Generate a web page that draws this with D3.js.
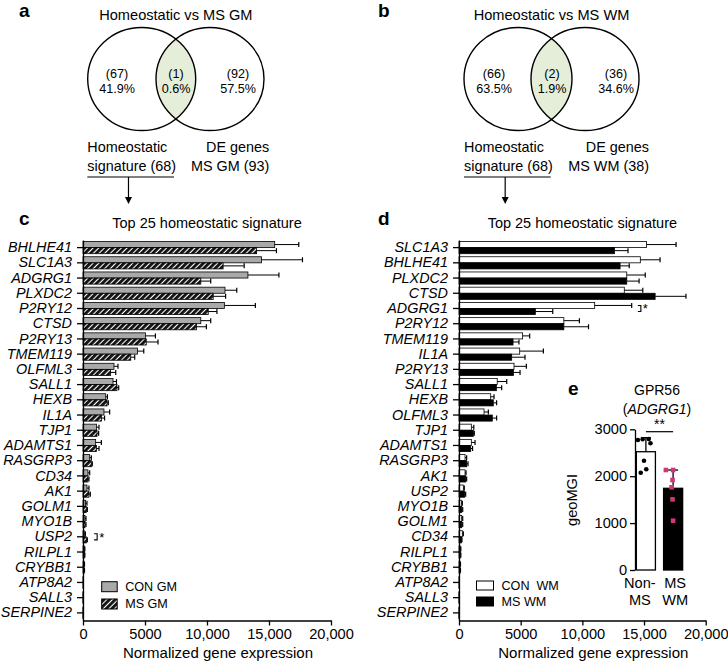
<!DOCTYPE html>
<html>
<head>
<meta charset="utf-8">
<script src="https://cdn.jsdelivr.net/npm/d3@7"></script>
<style>
body { margin: 0; background: #fff; }
text { font-family: "Liberation Sans", Arial, sans-serif; fill: #000; }
</style>
</head>
<body>
<div id="fig"></div>
<script>
// ---- data ----
var vennGMCounts = ["(67)", "(1)", "(92)"];
var vennGMPct = ["41.9%", "0.6%", "57.5%"];
var vennWMCounts = ["(66)", "(2)", "(36)"];
var vennWMPct = ["63.5%", "1.9%", "34.6%"];

var genesGM = ["BHLHE41", "SLC1A3", "ADGRG1", "PLXDC2", "P2RY12", "CTSD", "P2RY13", "TMEM119",
  "OLFML3", "SALL1", "HEXB", "IL1A", "TJP1", "ADAMTS1", "RASGRP3", "CD34", "AK1", "GOLM1",
  "MYO1B", "USP2", "RILPL1", "CRYBB1", "ATP8A2", "SALL3", "SERPINE2"];
var conGM = [15460, 14400, 13300, 11450, 11400, 9500, 5030, 4390, 2500, 2420, 1830, 1690, 1080,
  1020, 540, 400, 320, 210, 160, 100, 100, 80, 20, 10, 10];
var conGMsd = [1940, 3300, 2500, 950, 2500, 800, 810, 510, 320, 280, 140, 460, 210, 460, 130,
  140, 160, 110, 80, 90, 50, 40, 10, 5, 5];
var msGM = [14000, 11300, 9500, 10500, 10100, 9150, 5100, 3850, 2230, 2740, 1940, 1480, 1130,
  1080, 670, 400, 480, 270, 160, 270, 100, 80, 20, 10, 10];
var msGMsd = [1600, 1700, 800, 1000, 700, 800, 950, 320, 410, 140, 100, 260, 130, 210, 80, 80,
  110, 80, 80, 80, 50, 40, 10, 5, 5];

var genesWM = ["SLC1A3", "BHLHE41", "PLXDC2", "CTSD", "ADGRG1", "P2RY12", "TMEM119", "IL1A",
  "P2RY13", "SALL1", "HEXB", "OLFML3", "TJP1", "ADAMTS1", "RASGRP3", "AK1", "USP2", "MYO1B",
  "GOLM1", "CD34", "RILPL1", "CRYBB1", "ATP8A2", "SALL3", "SERPINE2"];
var conWM = [15200, 14700, 13600, 13400, 11000, 8500, 5160, 4920, 4460, 3100, 2570, 2030, 1000,
  1000, 490, 490, 350, 190, 220, 270, 100, 80, 20, 10, 10];
var conWMsd = [2400, 1600, 1500, 1500, 3000, 1260, 570, 1920, 1000, 770, 270, 350, 200, 300,
  130, 80, 80, 80, 80, 80, 50, 40, 10, 5, 5];
var msWM = [12600, 13060, 13600, 15900, 6190, 8500, 4380, 4270, 4410, 3030, 2780, 2700, 1160,
  950, 620, 540, 460, 220, 220, 190, 100, 80, 20, 10, 10];
var msWMsd = [1100, 740, 1000, 2500, 1410, 2000, 480, 1080, 540, 430, 270, 350, 80, 150, 110,
  80, 80, 80, 80, 50, 50, 40, 10, 5, 5];

var xTicks = [0, 5000, 10000, 15000, 20000];

var gprGroups = ["Non-MS", "MS WM"];
var gprMeans = [2522, 1742];
var gprSD = [300, 390];
var nonMSPoints = [2772, 2787, 2793, 2701, 2331, 2147, 2075];
var msWMPoints = [2132, 2132, 1919, 1763, 1507, 1051];
var nonMSJitter = [-0.42, -0.17, 0.15, 0.24, -0.1, 0.02, -0.27];
var msWMJitter = [-0.38, 0, -0.03, -0.08, -0.03, 0];
var gprTicks = [0, 1000, 2000, 3000];

// ---- drawing ----
var W = 728, H = 666;
var svg = d3.select("#fig").append("svg").attr("width", W).attr("height", H);
var defs = svg.append("defs");

// diagonal hatch for MS GM bars
var hatch = defs.append("pattern")
  .attr("id", "hatch")
  .attr("patternUnits", "userSpaceOnUse")
  .attr("width", 4).attr("height", 4)
  .attr("patternTransform", "rotate(45)");
hatch.append("rect").attr("width", 4).attr("height", 4).attr("fill", "#fff");
hatch.append("rect").attr("width", 2.9).attr("height", 4).attr("fill", "#111");

function panelLetter(x, y, t) {
  svg.append("text").attr("x", x).attr("y", y).attr("dy", "0.35em")
    .style("font-size", "19px").style("font-weight", "bold").text(t);
}

// Venn diagram
function venn(id, title, cxL, cxR, counts, pcts, textX, leftLab, rightLab, lineX0, lineX1, rightEnd) {
  var cy = 79, rx = 54, ry = 51.5;
  svg.append("text").attr("x", (cxL + cxR) / 2).attr("y", 15).attr("dy", "0.35em")
    .attr("text-anchor", "middle").style("font-size", "14.6px").text(title);

  defs.append("clipPath").attr("id", id)
    .append("ellipse").attr("cx", cxL).attr("cy", cy).attr("rx", rx).attr("ry", ry);
  svg.append("ellipse").attr("cx", cxR).attr("cy", cy).attr("rx", rx).attr("ry", ry)
    .attr("clip-path", "url(#" + id + ")").attr("fill", "#e4eed9");
  [cxL, cxR].forEach(function (cx) {
    svg.append("ellipse").attr("cx", cx).attr("cy", cy).attr("rx", rx).attr("ry", ry)
      .attr("fill", "none").attr("stroke", "#000").attr("stroke-width", 1.4);
  });

  counts.forEach(function (c, i) {
    svg.append("text").attr("x", textX[i]).attr("y", 74).attr("dy", "0.35em")
      .attr("text-anchor", "middle").style("font-size", "12.6px").text(c);
    svg.append("text").attr("x", textX[i]).attr("y", 89).attr("dy", "0.35em")
      .attr("text-anchor", "middle").style("font-size", "12.6px").text(pcts[i]);
  });

  leftLab.forEach(function (t, i) {
    svg.append("text").attr("x", lineX0).attr("y", 147 + i * 18.5).attr("dy", "0.35em")
      .style("font-size", "14.4px").text(t);
  });
  rightLab.forEach(function (t, i) {
    svg.append("text").attr("x", rightEnd).attr("y", 147 + i * 18.5).attr("dy", "0.35em")
      .attr("text-anchor", "end").style("font-size", "14.4px").text(t);
  });

  svg.append("line").attr("x1", lineX0).attr("x2", lineX1).attr("y1", 177).attr("y2", 177)
    .attr("stroke", "#000").attr("stroke-width", 1.2);
  var ax = lineX0 + (lineX1 - lineX0) * 0.475;
  svg.append("line").attr("x1", ax).attr("x2", ax).attr("y1", 177).attr("y2", 198)
    .attr("stroke", "#000").attr("stroke-width", 1.2);
  svg.append("path").attr("d", "M" + (ax - 3.5) + ",197 L" + (ax + 3.5) + ",197 L" + ax + ",204 Z")
    .attr("fill", "#000");
}

panelLetter(19, 10, "a");
venn("clipGM", "Homeostatic vs MS GM", 141.7, 210, vennGMCounts, vennGMPct, [117, 176, 238],
  ["Homeostatic", "signature (68)"], ["DE genes", "MS GM (93)"], 87.3, 174, 269.3);
panelLetter(378, 10, "b");
venn("clipWM", "Homeostatic vs MS WM", 518, 585, vennWMCounts, vennWMPct, [494, 552, 616],
  ["Homeostatic", "signature (68)"], ["DE genes", "MS WM (38)"], 464, 550.7, 649);

// Horizontal grouped bar chart
function barPanel(genes, con, conSd, ms, msSd, x0, x1, fills, legendNames, legendBox, sig) {
  var x = d3.scaleLinear().domain([0, 20000]).range([x0, x1]);
  var y = d3.scaleBand().domain(genes).range([240, 620.5]);
  var sub = d3.scaleBand().domain([0, 1]).range([0, y.bandwidth()]).paddingOuter(0.25);

  svg.append("text").attr("x", (x0 + x1) / 2).attr("y", 223).attr("dy", "0.35em")
    .attr("text-anchor", "middle").style("font-size", "14.5px").text("Top 25 homeostatic signature");

  var rows = genes.map(function (g, i) {
    return { gene: g, vals: [{ k: 0, m: con[i], sd: conSd[i] }, { k: 1, m: ms[i], sd: msSd[i] }] };
  });

  var rowG = svg.append("g").selectAll("g").data(rows).enter().append("g")
    .attr("transform", function (d) { return "translate(0," + y(d.gene) + ")"; });

  var bar = rowG.selectAll("g").data(function (d) { return d.vals; }).enter().append("g");
  bar.append("rect")
    .attr("x", x(0))
    .attr("y", function (d) { return sub(d.k); })
    .attr("width", function (d) { return x(d.m) - x(0); })
    .attr("height", sub.bandwidth())
    .attr("fill", function (d) { return fills[d.k]; })
    .attr("stroke", "#000").attr("stroke-width", 0.8);
  bar.append("line")
    .attr("x1", function (d) { return x(d.m); })
    .attr("x2", function (d) { return x(d.m + d.sd); })
    .attr("y1", function (d) { return sub(d.k) + sub.bandwidth() / 2; })
    .attr("y2", function (d) { return sub(d.k) + sub.bandwidth() / 2; })
    .attr("stroke", "#000").attr("stroke-width", 1);
  bar.append("line")
    .attr("x1", function (d) { return x(d.m + d.sd); })
    .attr("x2", function (d) { return x(d.m + d.sd); })
    .attr("y1", function (d) { return sub(d.k) + sub.bandwidth() / 2 - 2.5; })
    .attr("y2", function (d) { return sub(d.k) + sub.bandwidth() / 2 + 2.5; })
    .attr("stroke", "#000").attr("stroke-width", 1.2);

  // significance bracket
  var by0 = y(sig.gene) + sub(0) + sub.bandwidth() / 2;
  var by1 = y(sig.gene) + sub(1) + sub.bandwidth() / 2;
  var bx = x(sig.at);
  svg.append("path")
    .attr("d", "M" + bx + "," + by0 + " H" + (bx + 3) + " V" + by1 + " H" + bx)
    .attr("fill", "none").attr("stroke", "#000").attr("stroke-width", 1.1);
  svg.append("text").attr("x", bx + 5).attr("y", (by0 + by1) / 2 + 5)
    .style("font-size", "13px").text("*");

  var yAxis = svg.append("g").attr("transform", "translate(" + x0 + ",0)")
    .call(d3.axisLeft(y).tickSize(6).tickSizeOuter(0).tickPadding(5));
  yAxis.attr("font-family", null).attr("font-size", null);
  yAxis.selectAll("text").style("font-size", "14.4px").style("font-style", "italic");
  yAxis.selectAll("line, path").attr("stroke-width", 1.3);

  var xAxis = svg.append("g").attr("transform", "translate(0,620.5)")
    .call(d3.axisBottom(x).tickValues(xTicks).tickSize(5).tickSizeOuter(0).tickPadding(3)
      .tickFormat(function (d) { return d >= 10000 ? d3.format(",")(d) : d; }));
  xAxis.attr("font-family", null).attr("font-size", null);
  xAxis.selectAll("text").style("font-size", "14.6px");
  xAxis.selectAll("line, path").attr("stroke-width", 1.3);

  svg.append("text").attr("x", (x0 + x1) / 2 + 11).attr("y", 653).attr("dy", "0.35em")
    .attr("text-anchor", "middle").style("font-size", "15px").text("Normalized gene expression");

  // legend
  legendNames.forEach(function (n, i) {
    var ly = legendBox.y + i * legendBox.step;
    svg.append("rect").attr("x", legendBox.x).attr("y", ly)
      .attr("width", legendBox.w).attr("height", legendBox.h)
      .attr("fill", fills[i]).attr("stroke", "#000").attr("stroke-width", 1);
    svg.append("text").attr("x", legendBox.x + legendBox.w + 8).attr("y", ly + legendBox.h / 2)
      .attr("dy", "0.35em").style("font-size", "12.6px").style("white-space", "pre").text(n);
  });
}

panelLetter(19, 218, "c");
barPanel(genesGM, conGM, conGMsd, msGM, msGMsd, 83, 331, ["#a9a9a9", "url(#hatch)"],
  ["CON GM", "MS GM"], { x: 101.7, y: 581.7, w: 15.5, h: 10, step: 17.3 },
  { gene: "USP2", at: 900 });
panelLetter(378, 218, "d");
barPanel(genesWM, conWM, conWMsd, msWM, msWMsd, 459, 705.7, ["#fff", "#000"],
  ["CON  WM", "MS WM"], { x: 476.5, y: 581, w: 17, h: 9, step: 16 },
  { gene: "ADGRG1", at: 14500 });

// Panel e: GPR56 bar plot
panelLetter(568, 388, "e");
svg.append("text").attr("x", 657).attr("y", 390).attr("dy", "0.35em")
  .attr("text-anchor", "middle").style("font-size", "14px").text("GPR56");
var sub2 = svg.append("text").attr("x", 657).attr("y", 409).attr("dy", "0.35em")
  .attr("text-anchor", "middle").style("font-size", "14px");
sub2.append("tspan").text("(");
sub2.append("tspan").style("font-style", "italic").text("ADGRG1");
sub2.append("tspan").text(")");

var ex = d3.scaleBand().domain(gprGroups).range([635, 684]).paddingInner(0.3).paddingOuter(0.05);
var ey = d3.scaleLinear().domain([0, 3000]).range([570, 429.3]);

svg.append("g").selectAll("rect").data(gprGroups).enter().append("rect")
  .attr("x", function (d) { return ex(d); })
  .attr("y", function (d, i) { return ey(gprMeans[i]); })
  .attr("width", ex.bandwidth())
  .attr("height", function (d, i) { return ey(0) - ey(gprMeans[i]); })
  .attr("fill", function (d, i) { return i === 0 ? "#fff" : "#000"; })
  .attr("stroke", "#000").attr("stroke-width", 1.3);

gprGroups.forEach(function (g, i) {
  var cx = ex(g) + ex.bandwidth() / 2;
  svg.append("line").attr("x1", cx).attr("x2", cx)
    .attr("y1", ey(gprMeans[i])).attr("y2", ey(gprMeans[i] + gprSD[i]))
    .attr("stroke", "#000").attr("stroke-width", 1.3);
  svg.append("line").attr("x1", cx - 5).attr("x2", cx + 5)
    .attr("y1", ey(gprMeans[i] + gprSD[i])).attr("y2", ey(gprMeans[i] + gprSD[i]))
    .attr("stroke", "#000").attr("stroke-width", 1.3);
});

svg.append("g").selectAll("circle").data(nonMSPoints).enter().append("circle")
  .attr("cx", function (d, i) { return ex(gprGroups[0]) + ex.bandwidth() * (0.5 + nonMSJitter[i]); })
  .attr("cy", function (d) { return ey(d); })
  .attr("r", 2.3).attr("fill", "#000");
svg.append("g").selectAll("rect").data(msWMPoints).enter().append("rect")
  .attr("x", function (d, i) { return ex(gprGroups[1]) + ex.bandwidth() * (0.5 + msWMJitter[i]) - 2.3; })
  .attr("y", function (d) { return ey(d) - 2.3; })
  .attr("width", 4.6).attr("height", 4.6).attr("fill", "#d2367a");

var eAxis = svg.append("g").attr("transform", "translate(635,0)")
  .call(d3.axisLeft(ey).tickValues(gprTicks).tickSize(5).tickSizeOuter(0).tickPadding(3)
    .tickFormat(d3.format("d")));
eAxis.attr("font-family", null).attr("font-size", null);
eAxis.selectAll("text").style("font-size", "14.6px");
eAxis.selectAll("line, path").attr("stroke-width", 1.3);

svg.append("text").attr("transform", "translate(572,500) rotate(-90)").attr("dy", "0.35em")
  .attr("text-anchor", "middle").style("font-size", "14.6px").text("geoMGI");

// two-line category labels, first column nudged left like the original
var labels = [["Non-", "MS"], ["MS", "WM"]];
var labelShift = [-6, 2];
gprGroups.forEach(function (g, i) {
  labels[i].forEach(function (t, j) {
    svg.append("text").attr("x", ex(g) + ex.bandwidth() / 2 + labelShift[i]).attr("y", 583 + j * 17)
      .attr("dy", "0.35em").attr("text-anchor", "middle").style("font-size", "14.6px").text(t);
  });
});

var sx0 = ex(gprGroups[0]) + ex.bandwidth() / 2, sx1 = ex(gprGroups[1]) + ex.bandwidth() / 2;
svg.append("line").attr("x1", sx0).attr("x2", sx1).attr("y1", 431.7).attr("y2", 431.7)
  .attr("stroke", "#000").attr("stroke-width", 1.2);
svg.append("text").attr("x", (sx0 + sx1) / 2).attr("y", 429).attr("text-anchor", "middle")
  .style("font-size", "14px").text("**");
</script>
</body>
</html>
